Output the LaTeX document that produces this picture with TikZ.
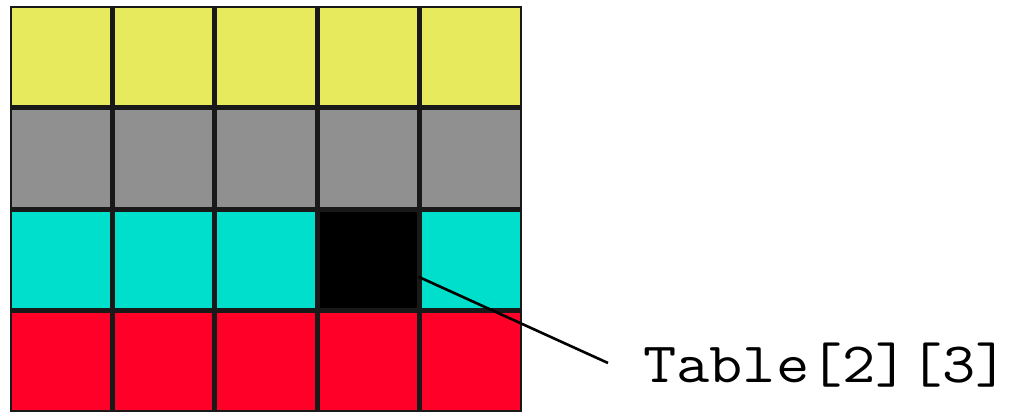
\documentclass[tikz,border=0pt]{standalone}
\usepackage{fontspec}
\usetikzlibrary{calc}

\definecolor{rowyellow}{HTML}{E8EA5E}
\definecolor{rowgray}{HTML}{909090}
\definecolor{rowcyan}{HTML}{00DECC}
\definecolor{rowred}{HTML}{FF0028}

\begin{document}
\begin{tikzpicture}[
  x=1pt,y=-1pt,
  cell/.style={draw=black!90,line width=2.5pt,minimum width=100pt,
    minimum height=99pt,inner sep=0pt,outer sep=0pt},
  leader/.style={line width=2.6pt}
]
  \useasboundingbox (0,0) rectangle (1011,414);

  % four rows of five cells
  \foreach \r/\col in {0/rowyellow,1/rowgray,2/rowcyan,3/rowred}
    \foreach \c in {0,...,4}
      \node[cell,fill=\col] (c-\r-\c)
        at ({10+102.4*\c+51.2},{6+101.5*\r+50.75}) {};

  % the picked element
  \node[cell,fill=black] (c-2-3) at ({10+102.4*3+51.2},{6+101.5*2+50.75}) {};

  \node[font=\ttfamily\fontsize{57}{60}\selectfont,anchor=base west,
    inner sep=0pt] (lbl) at (643,382) {\scalebox{1.132}[1]{Table[2][3]}};

  \coordinate (tip) at (608,363);
  \draw[leader] ($(c-2-3.east)+(0,17)$) -- (tip);
\end{tikzpicture}
\end{document}
